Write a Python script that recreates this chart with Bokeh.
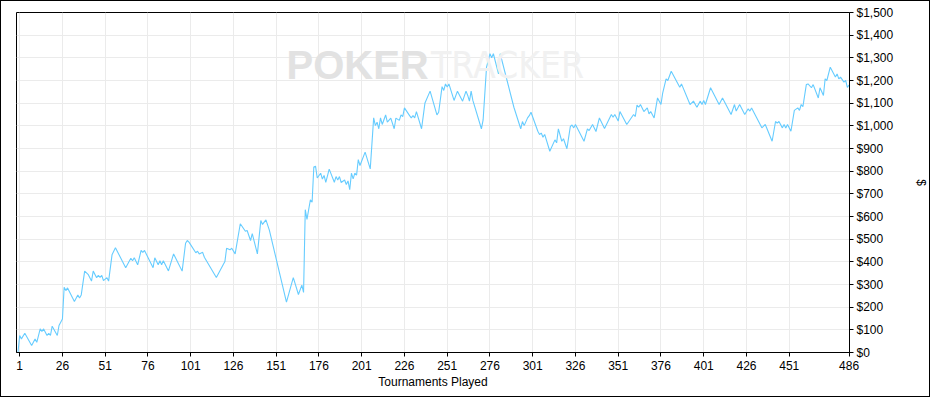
from bokeh.plotting import figure
from bokeh.models import FixedTicker, NumeralTickFormatter, Range1d, Label, SingleIntervalTicker
from bokeh.embed import file_html
from bokeh.resources import INLINE

# ---- data ----
x_ticks = [1, 26, 51, 76, 101, 126, 151, 176, 201, 226, 251, 276, 301, 326, 351, 376, 401, 426, 451, 486]

games = [
    0, 1, 2, 4, 8, 10, 11, 13, 14, 15, 17, 18, 19, 20, 23, 24, 26, 27, 28, 29,
    33, 35, 36, 37, 39, 41, 43, 44, 46, 47, 48, 49, 50, 52, 53, 55, 57, 63, 66, 67,
    68, 70, 72, 73, 74, 79, 80, 82, 83, 84, 85, 88, 91, 96, 98, 99, 100, 104, 105, 106,
    108, 109, 116, 121, 122, 124, 125, 127, 130, 133, 134, 136, 137, 140, 142, 143, 145, 147, 157, 161,
    164, 166, 167, 168, 169, 171, 172, 173, 174, 175, 177, 178, 179, 180, 182, 185, 186, 187, 188, 189,
    191, 192, 193, 194, 195, 196, 197, 198, 199, 200, 203, 206, 208, 209, 210, 211, 212, 213, 215, 216,
    218, 220, 221, 223, 224, 225, 226, 229, 230, 231, 232, 233, 236, 238, 241, 245, 246, 248, 249, 250,
    251, 252, 255, 257, 260, 262, 263, 264, 265, 266, 271, 272, 274, 276, 277, 278, 281, 282, 290, 294,
    295, 296, 298, 299, 300, 304, 305, 306, 307, 308, 311, 314, 315, 316, 318, 319, 321, 323, 324, 325,
    326, 331, 333, 334, 336, 338, 340, 343, 347, 348, 349, 351, 352, 356, 360, 361, 362, 363, 364, 366,
    368, 369, 370, 372, 374, 376, 377, 379, 380, 382, 387, 388, 393, 395, 397, 399, 400, 401, 402, 405,
    410, 412, 417, 419, 420, 422, 425, 427, 428, 429, 435, 437, 441, 443, 444, 445, 447, 448, 449, 450,
    452, 454, 456, 457, 458, 459, 461, 462, 464, 465, 468, 469, 471, 472, 473, 475, 478, 479, 480, 481,
    483, 484, 485, 486,
]

profit = [
    0, 75, 60, 85, 31, 60, 45, 104, 93, 104, 75, 85, 75, 116, 75, 119, 148, 288, 273, 285,
    225, 254, 240, 254, 359, 345, 315, 359, 330, 340, 331, 340, 317, 330, 315, 431, 462, 374, 416, 405,
    418, 387, 450, 442, 450, 374, 418, 387, 405, 387, 405, 360, 435, 359, 482, 494, 487, 440, 447, 435,
    442, 420, 331, 401, 460, 453, 460, 435, 568, 535, 538, 494, 524, 435, 582, 565, 585, 540, 222, 330,
    256, 297, 265, 630, 587, 674, 663, 818, 822, 770, 791, 765, 781, 751, 809, 751, 776, 761, 776, 750,
    761, 741, 757, 718, 791, 766, 791, 782, 851, 825, 884, 810, 1035, 1001, 1016, 987, 1035, 1006, 1048, 1016,
    1034, 987, 1034, 1024, 1048, 1041, 1079, 1045, 1035, 1045, 1035, 1063, 987, 1101, 1153, 1048, 1060, 1173, 1156, 1185,
    1171, 1185, 1112, 1153, 1109, 1153, 1134, 1109, 1153, 1112, 987, 1026, 1259, 1318, 1300, 1318, 1229, 1318, 1082, 987,
    1019, 1001, 1035, 1045, 1060, 976, 962, 968, 950, 962, 888, 938, 925, 987, 932, 943, 899, 997, 1004, 991,
    1006, 932, 987, 979, 1006, 975, 1035, 988, 1050, 1038, 1050, 1021, 1063, 1006, 1050, 1041, 1092, 1082, 1094, 1063,
    1079, 1053, 1063, 1035, 1123, 1094, 1144, 1207, 1200, 1241, 1170, 1185, 1094, 1109, 1082, 1109, 1094, 1112, 1094, 1168,
    1094, 1123, 1050, 1094, 1065, 1094, 1050, 1075, 1065, 1079, 991, 1006, 932, 1019, 1012, 1019, 991, 1006, 990, 1006,
    976, 1068, 1079, 1068, 1094, 1085, 1182, 1185, 1168, 1182, 1123, 1168, 1134, 1207, 1200, 1259, 1215, 1229, 1207, 1215,
    1193, 1200, 1170, 1180,
]

FONT = "Liberation Sans"

p = figure(
    width=930, height=397,
    output_backend="svg", toolbar_location=None,
    x_range=Range1d(-0.86, 486.25), y_range=Range1d(0, 1500),
    y_axis_location="right",
    min_border_left=15, min_border_top=11, min_border_right=76, min_border_bottom=46,
    background_fill_color="white", border_fill_color="white",
)
p.styles = {"border": "1px solid #000000"}
p.outline_line_color = "black"
p.outline_line_width = 1

# watermark
p.add_layout(Label(x=157, y=1268, text="POKER", text_font=FONT, text_font_size="40px",
                   text_font_style="bold", text_color="#e2e2e2", text_baseline="alphabetic"))
p.add_layout(Label(x=241.5, y=1268, text="TRACKER", text_font="'DejaVu Sans Condensed', 'Liberation Sans'",
                   text_font_size="37px", text_color="#f1f1f1", text_baseline="alphabetic"))

p.line(games, profit, line_color="#66ccff", line_width=1.1)

# axes
xa = p.xaxis[0]
xa.ticker = FixedTicker(ticks=x_ticks)
xa.axis_label = "Tournaments Played"
ya = p.yaxis[0]
ya.ticker = SingleIntervalTicker(interval=100)
ya.formatter = NumeralTickFormatter(format="$0,0")
ya.axis_label = "$"

for ax in (xa, ya):
    ax.axis_line_color = "black"
    ax.major_tick_line_color = "black"
    ax.major_tick_out = 4
    ax.major_tick_in = 0
    ax.minor_tick_line_color = None
    ax.major_label_text_font = FONT
    ax.major_label_text_font_size = "12px"
    ax.major_label_text_color = "black"
    ax.axis_label_text_font = FONT
    ax.axis_label_text_font_size = "12px"
    ax.axis_label_text_font_style = "normal"
    ax.axis_label_text_color = "black"

xa.major_label_standoff = 4
xa.axis_label_standoff = 2
ya.major_label_standoff = 3
ya.axis_label_standoff = 18

p.xgrid.grid_line_color = "#ebebeb"
p.ygrid.grid_line_color = "#ebebeb"

open("out.html", "w").write(file_html(p, INLINE))
